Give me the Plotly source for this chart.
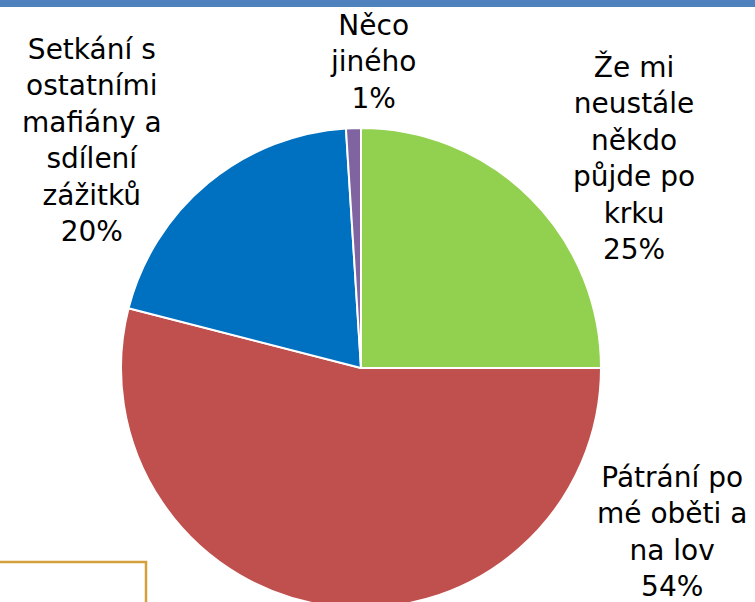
import plotly.graph_objects as go

# ---- data ----
categories = [
    "Že mi neustále někdo půjde po krku",
    "Pátrání po mé oběti a na lov",
    "Setkání s ostatními mafiány a sdílení zážitků",
    "Něco jiného",
]
label_lines = [
    ["Že mi", "neustále", "někdo", "půjde po", "krku"],
    ["Pátrání po", "mé oběti a", "na lov"],
    ["Setkání s", "ostatními", "mafiány a", "sdílení", "zážitků"],
    ["Něco", "jiného"],
]
values = [25, 54, 20, 1]
colors = ["#92D050", "#C0504D", "#0070C0", "#8064A2"]

# ---- layout geometry (pixels) ----
W, H = 755, 620
cx, cy, r = 361, 368, 240
label_pos = [(634, 158), (672, 532), (92, 140), (373, 62)]

def px_x(x):
    return x / W

def px_y(y):
    return 1 - y / H

fig = go.Figure()
fig.add_trace(go.Pie(
    labels=categories,
    values=values,
    sort=False,
    direction="clockwise",
    rotation=0,
    marker=dict(colors=colors, line=dict(color="white", width=2)),
    textinfo="none",
    hoverinfo="label+percent",
    showlegend=False,
    domain=dict(x=[px_x(cx - r), px_x(cx + r)], y=[px_y(cy + r), px_y(cy - r)]),
))

total = sum(values)
annotations = []
for lines, v, (lx, ly) in zip(label_lines, values, label_pos):
    txt = "<br>".join(lines + [f"{round(100 * v / total)}%"])
    annotations.append(dict(
        text=txt, x=px_x(lx), y=px_y(ly), xref="paper", yref="paper",
        xanchor="center", yanchor="middle", showarrow=False, align="center",
        font=dict(family="DejaVu Sans", size=28, color="black"),
    ))

shapes = [
    # top blue bar
    dict(type="rect", xref="paper", yref="paper", x0=0, x1=1,
         y0=px_y(7), y1=1, fillcolor="#4F81BD", line=dict(width=0), layer="above"),
    # gold box corner at bottom-left
    dict(type="path", xref="paper", yref="paper",
         path=f"M 0 {px_y(562)} L {px_x(146)} {px_y(562)} L {px_x(146)} 0",
         line=dict(color="#D4A03C", width=2.5)),
]

fig.update_layout(
    width=W, height=H,
    margin=dict(l=0, r=0, t=0, b=0),
    paper_bgcolor="white", plot_bgcolor="white",
    annotations=annotations, shapes=shapes,
)

fig.write_html(
    "out.html",
    config={"displayModeBar": False},
    post_script="document.body.style.margin='0';document.body.style.overflow='hidden';"
                "document.documentElement.style.overflow='hidden';",
)
